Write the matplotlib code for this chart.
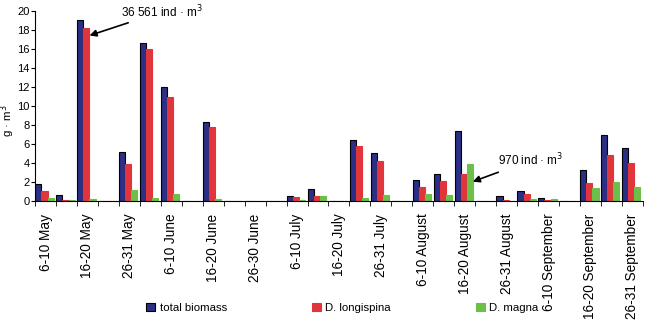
import numpy as np
import matplotlib
matplotlib.use("Agg")
import matplotlib.pyplot as plt
from matplotlib.patches import Patch

plt.rcParams['font.family'] = ['Liberation Sans', 'DejaVu Sans']

# 5-day periods, 6-10 May .. 26-31 September
periods = ["6-10 May", "11-15 May", "16-20 May", "21-25 May", "26-31 May",
           "1-5 June", "6-10 June", "11-15 June", "16-20 June", "21-25 June", "26-30 June",
           "1-5 July", "6-10 July", "11-15 July", "16-20 July", "21-25 July", "26-31 July",
           "1-5 August", "6-10 August", "11-15 August", "16-20 August", "21-25 August", "26-31 August",
           "1-5 September", "6-10 September", "11-15 September", "16-20 September", "21-25 September",
           "26-31 September"]

total = [1.85, 0.65, 19.0, 0, 5.2, 16.6, 12.0, 0, 8.3, 0, 0, 0, 0.55, 1.3,
         0, 6.4, 5.1, 0, 2.2, 2.9, 7.35, 0, 0.55, 1.05, 0.35, 0, 3.3, 6.9, 5.6]
longispina = [1.05, 0.15, 18.2, 0, 3.9, 16.0, 10.9, 0, 7.8, 0, 0, 0, 0.4, 0.5,
              0, 5.8, 4.2, 0, 1.45, 2.15, 2.9, 0, 0.12, 0.8, 0.1, 0, 1.9, 4.8, 4.05]
magna = [0.3, 0.08, 0.25, 0, 1.15, 0.35, 0.8, 0, 0.25, 0, 0, 0, 0.1, 0.5,
         0, 0.35, 0.65, 0, 0.7, 0.65, 3.85, 0, 0.05, 0.18, 0.18, 0, 1.35, 2.0, 1.5]

series_names = ["total biomass", "D. longispina", "D. magna"]
colors = ["#2b2f85", "#e0363b", "#6cc04a"]

fig = plt.figure(figsize=(6.5, 3.26), dpi=100)
ax = fig.add_axes([0.054, 0.383, 0.935, 0.584])

x = np.arange(len(periods))
w = 0.29
offs = np.array([-1, 0, 1]) * w - 0.05
for vals, off, c in zip([total, longispina, magna], offs, colors):
    ec = "black" if c == colors[0] else c
    ax.bar(x + off, vals, width=w, color=c, edgecolor=ec, linewidth=0.8)

ax.set_xlim(-0.5, len(periods) - 0.5)
ax.set_ylim(0, 20)
ax.set_yticks(np.arange(0, 21, 2))
ax.tick_params(axis='y', labelsize=8, length=3, direction='out', pad=1)
ax.set_ylabel("g · m$^3$", fontsize=8.2)
ax.yaxis.set_label_coords(-0.029, 0.42)

ax.set_xticks(x[::2])
ax.set_xticklabels(periods[::2], rotation=90, fontsize=9.8)
ax.set_xticks(np.arange(-0.5, len(periods), 1), minor=True)
ax.tick_params(axis='x', which='major', length=0, pad=9)
ax.tick_params(axis='x', which='minor', length=3.5, direction='out')

for s in ["top", "right"]:
    ax.spines[s].set_visible(False)

ax.annotate("36 561 ind · m$^3$", xy=(2 + offs[1] + w / 2, longispina[2] - 0.8),
            xytext=(3.6, 19.9), fontsize=8.5, ha='left', va='center',
            annotation_clip=False,
            arrowprops=dict(arrowstyle="-|>", color="black", lw=1.2,
                            shrinkA=0, shrinkB=0, mutation_scale=10))
ax.annotate("970 ind · m$^3$", xy=(20 + offs[2] + w / 2, magna[20] - 1.8),
            xytext=(21.6, 4.3), fontsize=8.5, ha='left', va='center',
            annotation_clip=False,
            arrowprops=dict(arrowstyle="-|>", color="black", lw=1.2,
                            shrinkA=2, shrinkB=0, mutation_scale=10))

handles = [Patch(facecolor=c, edgecolor="black" if c == colors[0] else c, linewidth=0.8)
           for c in colors]
fig.legend(handles, series_names, loc='center', bbox_to_anchor=(0.527, 0.055), ncol=3,
           frameon=False, fontsize=8.2, handlelength=0.75, handleheight=0.75,
           handletextpad=0.4, columnspacing=7.5)

fig.savefig("out.png", dpi=100)
